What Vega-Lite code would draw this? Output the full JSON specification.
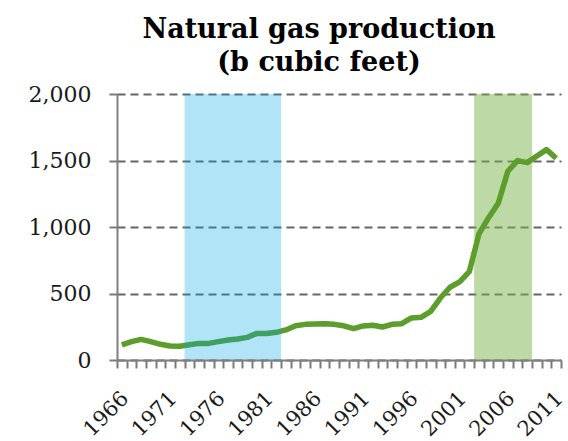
{
  "$schema": "https://vega.github.io/schema/vega-lite/v6.json",
  "width": 444,
  "height": 266,
  "autosize": {"type": "none"},
  "padding": {"left": 117, "top": 94, "right": 7, "bottom": 81},
  "background": "white",
  "title": {
    "text": ["Natural gas production", "(b cubic feet)"],
    "font": "DejaVu Serif",
    "fontSize": 27,
    "fontWeight": "bold",
    "lineHeight": 33,
    "color": "#000000",
    "anchor": "middle",
    "dx": -20,
    "offset": 6
  },
  "config": {
    "view": {"stroke": null},
    "axis": {
      "labelFont": "DejaVu Serif",
      "labelFontSize": 21,
      "labelColor": "#1a1a1a",
      "domainColor": "#7f7f7f",
      "domainWidth": 2,
      "gridColor": "#666666",
      "gridWidth": 2,
      "gridDash": [8, 5],
      "title": null
    }
  },
  "datasets": {
    "gas": [
      {"year": 1966, "value": 113},
      {"year": 1967, "value": 138},
      {"year": 1968, "value": 155},
      {"year": 1969, "value": 138},
      {"year": 1970, "value": 118},
      {"year": 1971, "value": 105},
      {"year": 1972, "value": 103},
      {"year": 1973, "value": 115},
      {"year": 1974, "value": 125},
      {"year": 1975, "value": 125},
      {"year": 1976, "value": 138},
      {"year": 1977, "value": 150},
      {"year": 1978, "value": 158},
      {"year": 1979, "value": 170},
      {"year": 1980, "value": 200},
      {"year": 1981, "value": 200},
      {"year": 1982, "value": 208},
      {"year": 1983, "value": 226},
      {"year": 1984, "value": 258},
      {"year": 1985, "value": 268},
      {"year": 1986, "value": 271},
      {"year": 1987, "value": 273},
      {"year": 1988, "value": 268},
      {"year": 1989, "value": 257},
      {"year": 1990, "value": 236},
      {"year": 1991, "value": 256},
      {"year": 1992, "value": 261},
      {"year": 1993, "value": 248},
      {"year": 1994, "value": 268},
      {"year": 1995, "value": 273},
      {"year": 1996, "value": 316},
      {"year": 1997, "value": 321},
      {"year": 1998, "value": 366},
      {"year": 1999, "value": 466},
      {"year": 2000, "value": 547},
      {"year": 2001, "value": 587},
      {"year": 2002, "value": 664},
      {"year": 2003, "value": 948},
      {"year": 2004, "value": 1070},
      {"year": 2005, "value": 1178},
      {"year": 2006, "value": 1421},
      {"year": 2007, "value": 1499},
      {"year": 2008, "value": 1484},
      {"year": 2009, "value": 1534},
      {"year": 2010, "value": 1582},
      {"year": 2011, "value": 1517}
    ],
    "bands": [
      {"period": "oil", "year": 1972.5, "end": 1982.5},
      {"period": "gas", "year": 2002.5, "end": 2008.5}
    ]
  },
  "encoding": {
    "x": {
      "field": "year",
      "type": "quantitative",
      "scale": {"domain": [1965.5, 2011.5], "nice": false, "zero": false},
      "axis": {
        "values": [1965.5, 1966.5, 1967.5, 1968.5, 1969.5, 1970.5, 1971.5, 1972.5, 1973.5, 1974.5, 1975.5, 1976.5, 1977.5, 1978.5, 1979.5, 1980.5, 1981.5, 1982.5, 1983.5, 1984.5, 1985.5, 1986.5, 1987.5, 1988.5, 1989.5, 1990.5, 1991.5, 1992.5, 1993.5, 1994.5, 1995.5, 1996.5, 1997.5, 1998.5, 1999.5, 2000.5, 2001.5, 2002.5, 2003.5, 2004.5, 2005.5, 2006.5, 2007.5, 2008.5, 2009.5, 2010.5, 2011.5],
        "labelExpr": "(datum.value + 0.5 - 1966) % 5 == 0 ? toString(datum.value + 0.5) : ''",
        "labelAngle": -45,
        "labelAlign": "right",
        "labelBaseline": "middle",
        "labelOffset": 8,
        "labelPadding": 27,
        "labelOverlap": false,
        "labelFlush": false,
        "labelBound": false,
        "grid": false,
        "ticks": true,
        "tickColor": "#7a7a7a",
        "tickWidth": 2,
        "tickSize": 8,
        "tickCap": "butt",
        "zindex": 1
      }
    }
  },
  "layer": [
    {
      "data": {"name": "bands"},
      "transform": [{"filter": "datum.period == 'gas'"}],
      "mark": {"type": "rect", "color": "#7bb34b", "opacity": 0.5},
      "encoding": {
        "x2": {"field": "end"}
      }
    },
    {
      "data": {"name": "gas"},
      "mark": {"type": "line", "color": "#5b9e2b", "strokeWidth": 5.5, "interpolate": "linear", "strokeJoin": "round"},
      "encoding": {
        "y": {
          "field": "value",
          "type": "quantitative",
          "scale": {"domain": [0, 2000], "nice": false},
          "axis": {
            "values": [0, 500, 1000, 1500, 2000],
            "format": ",d",
            "labelFontSize": 22,
            "labelPadding": 18,
            "ticks": true,
            "tickColor": "#7a7a7a",
            "tickWidth": 2,
            "tickSize": 8,
            "grid": true
          }
        }
      }
    },
    {
      "data": {"name": "bands"},
      "transform": [{"filter": "datum.period == 'oil'"}],
      "mark": {"type": "rect", "color": "#00a5e8", "opacity": 0.3},
      "encoding": {
        "x2": {"field": "end"}
      }
    }
  ]
}
